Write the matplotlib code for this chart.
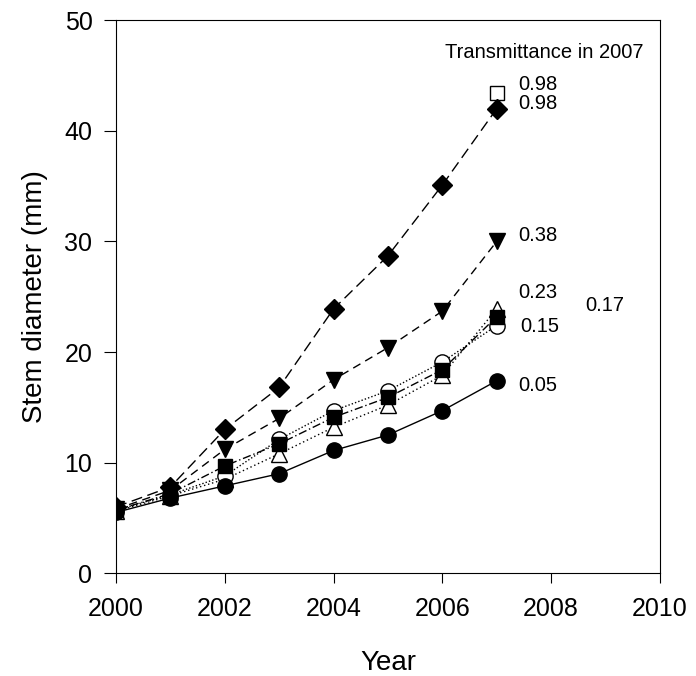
import matplotlib.pyplot as plt

plt.rcParams['font.family'] = ['Liberation Sans', 'DejaVu Sans']

years = [2000, 2001, 2002, 2003, 2004, 2005, 2006, 2007]

# stem diameter (mm) per plot, keyed by 2007 transmittance
open_square_098 = [6.0, 7.8, 13.0, 16.8, 23.9, 28.7, 35.1, 43.4]
diamond_098 = [6.0, 7.8, 13.0, 16.8, 23.9, 28.7, 35.1, 42.0]
triangle_down_038 = [5.8, 7.5, 11.2, 14.0, 17.5, 20.4, 23.7, 30.0]
open_triangle_023 = [5.6, 7.0, 8.5, 10.8, 13.2, 15.2, 17.9, 23.9]
square_017 = [5.7, 7.2, 9.7, 11.7, 14.1, 15.9, 18.4, 23.2]
open_circle_015 = [5.7, 7.1, 8.8, 12.1, 14.7, 16.5, 19.1, 22.4]
circle_005 = [5.5, 6.8, 7.9, 9.0, 11.1, 12.5, 14.7, 17.4]

fig = plt.figure(figsize=(6.96, 6.76), dpi=100)
ax = fig.add_axes([0.1667, 0.152, 0.7813, 0.818])

# open squares sit under the diamonds except in the final year
ax.plot(years, open_square_098, color='black', ls='none',
        marker='s', ms=10, mfc='white', mec='black', markevery=[7], zorder=1)
ax.plot(years, diamond_098, color='black', lw=1, ls=(0, (8, 4)),
        marker='D', ms=10, mfc='black', mec='black', zorder=3)
ax.plot(years, triangle_down_038, color='black', lw=1, ls=(0, (6, 4)),
        marker='v', ms=12, mfc='black', mec='black', zorder=3)
ax.plot(years, open_triangle_023, color='black', lw=1, ls=(0, (1, 2)),
        marker='^', ms=11, mfc='white', mec='black', zorder=2)
ax.plot(years, open_circle_015, color='black', lw=1, ls=(0, (1, 1.5)),
        marker='o', ms=11, mfc='white', mec='black', zorder=2)
ax.plot(years, square_017, color='black', lw=1, ls=(0, (6, 2, 1, 2)),
        marker='s', ms=10, mfc='black', mec='black', zorder=3)
ax.plot(years, circle_005, color='black', lw=1, ls='-',
        marker='o', ms=11, mfc='black', mec='black', zorder=3)

# transmittance labels next to the 2007 points
lab_kw = dict(fontsize=14.5, va='center', ha='left')
ax.text(2007.4, open_square_098[-1] + 0.8, '0.98', **lab_kw)
ax.text(2007.4, diamond_098[-1] + 0.5, '0.98', **lab_kw)
ax.text(2007.4, triangle_down_038[-1] + 0.5, '0.38', **lab_kw)
ax.text(2007.4, open_triangle_023[-1] + 1.5, '0.23', **lab_kw)
ax.text(2008.62, square_017[-1] + 1.0, '0.17', **lab_kw)
ax.text(2007.43, open_circle_015[-1] - 0.1, '0.15', **lab_kw)
ax.text(2007.4, circle_005[-1] - 0.4, '0.05', **lab_kw)
ax.text(2006.05, 47.1, 'Transmittance in 2007', fontsize=14.5, va='center', ha='left')

ax.set_xlim(2000, 2010)
ax.set_ylim(0, 50)
ax.set_xticks(range(2000, 2011, 2))
ax.set_yticks(range(0, 51, 10))
ax.tick_params(direction='out', length=9, width=0.8, labelsize=18,
               top=False, right=False, pad=8)
ax.tick_params(axis='x', length=7, pad=10)
for s in ax.spines.values():
    s.set_linewidth(0.8)

ax.set_xlabel('Year', fontsize=20, labelpad=21)
ax.set_ylabel('Stem diameter (mm)', fontsize=20, labelpad=12)

fig.savefig('out.png', dpi=100)
